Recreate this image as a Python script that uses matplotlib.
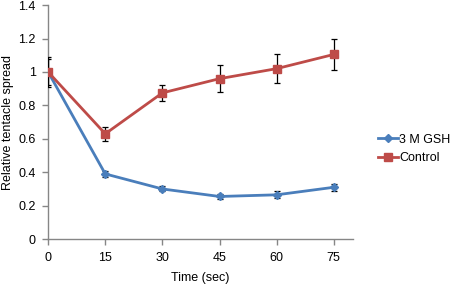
import matplotlib
matplotlib.use("Agg")
import matplotlib.pyplot as plt
from matplotlib.lines import Line2D

time = [0, 15, 30, 45, 60, 75]
gsh = [1.0, 0.39, 0.30, 0.255, 0.265, 0.31]
gsh_err = [0.08, 0.02, 0.015, 0.015, 0.02, 0.02]
control = [1.0, 0.63, 0.875, 0.96, 1.02, 1.105]
control_err = [0.09, 0.04, 0.05, 0.08, 0.085, 0.095]
yticks = [0, 0.2, 0.4, 0.6, 0.8, 1, 1.2, 1.4]
ytick_labels = ["0", "0.2", "0.4", "0.6", "0.8", "1", "1.2", "1.4"]

plt.rcParams['font.family'] = ['Liberation Sans', 'DejaVu Sans']
fig = plt.figure(figsize=(4.5, 2.86), dpi=100)
ax = fig.add_axes([0.107, 0.164, 0.677, 0.818])

blue = '#4A7EBB'
red = '#BE4B48'
fs = 9
ax.errorbar(time, gsh, yerr=gsh_err, color=blue, marker='D', markersize=4.5,
            lw=2.0, ecolor='black', elinewidth=0.9, capsize=2.5, capthick=0.9,
            label='3 M GSH', zorder=3)
ax.errorbar(time, control, yerr=control_err, color=red, marker='s', markersize=6,
            lw=2.0, ecolor='black', elinewidth=0.9, capsize=2.5, capthick=0.9,
            label='Control', zorder=3)

ax.set_xlim(0, 80)
ax.set_ylim(0, 1.4)
ax.set_xticks(time)
ax.set_yticks(yticks)
ax.set_yticklabels(ytick_labels)
for s in ['top', 'right']:
    ax.spines[s].set_visible(False)
for s in ['left', 'bottom']:
    ax.spines[s].set_color('#868686')
    ax.spines[s].set_linewidth(1.0)
ax.tick_params(axis='both', labelsize=fs, color='#868686', length=4, width=1.0,
               direction='out', pad=5)
ax.set_xlabel('Time (sec)', fontsize=fs)
ax.set_ylabel('Relative tentacle spread', fontsize=fs)
ax.xaxis.set_label_coords(0.5, -0.141)
ax.yaxis.set_label_coords(-0.113, 0.5)

handles = [Line2D([], [], color=blue, marker='D', markersize=4.5, lw=2.0),
           Line2D([], [], color=red, marker='s', markersize=6, lw=2.0)]
fig.legend(handles, ['3 M GSH', 'Control'], loc='upper left',
           bbox_to_anchor=(0.825, 0.555), frameon=False, fontsize=fs,
           handlelength=1.6, handletextpad=0.15, labelspacing=0.55, borderpad=0)

fig.savefig('out.png', dpi=100)
